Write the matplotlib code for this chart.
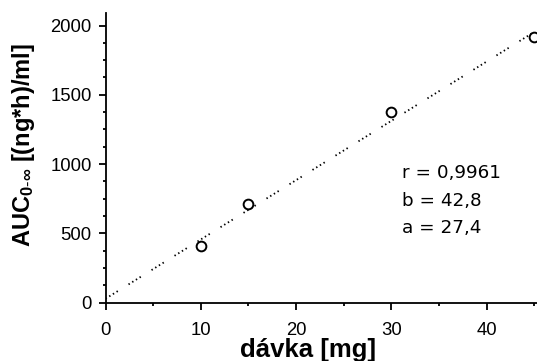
import matplotlib
matplotlib.use("Agg")
import matplotlib.pyplot as plt
import numpy as np

# data
davka = [10, 15, 30, 45]            # mg
auc = [410, 710, 1375, 1915]        # (ng*h)/ml
fit_a = 27.4
fit_b = 42.8
fit_r = 0.9961
stat_lines = ["r = 0,9961", "b = 42,8", "a = 27,4"]

plt.rcParams["mathtext.fontset"] = "custom"
plt.rcParams["mathtext.rm"] = "Liberation Sans"
plt.rcParams["mathtext.bf"] = "Liberation Sans:bold"
plt.rcParams["mathtext.default"] = "bf"

fig = plt.figure(figsize=(5.37, 3.61), dpi=100)
ax = fig.add_axes([0.1965, 0.162, 0.8035, 0.801])

# regression line y = a + b*x
xs = np.array([0, 45])
ax.plot(xs, fit_a + fit_b * xs, color="black", lw=1.3,
        linestyle=(0, (0.8, 1.6, 0.8, 1.6, 0.8, 1.6, 0.8, 7)))
ax.plot(davka, auc, linestyle="none", marker="o", markersize=7,
        markerfacecolor="white", markeredgecolor="black",
        markeredgewidth=1.4, clip_on=False, zorder=3)

ax.set_xlim(0, 45.3)
ax.set_ylim(0, 2088)
ax.set_xticks([0, 10, 20, 30, 40])
ax.set_xticks([5, 15, 25, 35, 45], minor=True)
ax.set_yticks([0, 500, 1000, 1500, 2000])
ax.set_yticks(np.arange(125, 2000, 125), minor=True)

for s in ["top", "right"]:
    ax.spines[s].set_visible(False)
for s in ["left", "bottom"]:
    ax.spines[s].set_linewidth(1.3)

ax.tick_params(which="major", direction="out", length=5, width=1.3,
               labelsize=13.3, labelfontfamily="Liberation Sans")
ax.tick_params(axis="y", which="major", pad=5)
ax.tick_params(axis="x", which="major", pad=9)
ax.tick_params(which="minor", direction="out", length=2, width=1.3)

ax.set_xlabel("dávka [mg]", fontsize=18.5, fontweight="bold",
              family="Liberation Sans", va="baseline")
ax.xaxis.set_label_coords(0.47, -0.1895)
ax.set_ylabel(r"AUC$_{0\text{-}\infty}$ [(ng*h)/ml]", fontsize=17,
              fontweight="bold", family="Liberation Sans", va="center")
ax.yaxis.set_label_coords(-0.189, 0.545)

for i, line in enumerate(stat_lines):
    ax.text(0.686, 0.4295 - 0.095 * i, line, transform=ax.transAxes,
            fontsize=13.2, family="DejaVu Sans", va="baseline", ha="left")

fig.savefig("out.png", dpi=100)
